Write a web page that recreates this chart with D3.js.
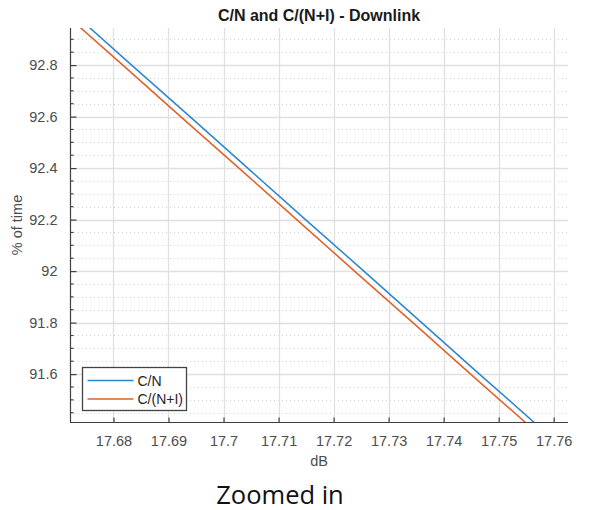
<!DOCTYPE html>
<html>
<head>
<meta charset="utf-8">
<script src="https://cdn.jsdelivr.net/npm/d3@7"></script>
<style>
  html, body { margin: 0; padding: 0; background: #fff; }
  svg { display: block; }
</style>
</head>
<body>
<svg id="chart" width="589" height="510"></svg>
<script>
// Percent-of-time levels at which each curve is sampled
const pctLevels = [93.0, 92.8, 92.6, 92.4, 92.2, 92.0, 91.8, 91.6, 91.4];
// C/N (dB) at those levels
const cnValues = [17.6728, 17.6833, 17.6939, 17.7044, 17.7149, 17.7255, 17.7360, 17.7465, 17.7571];
// C/(N+I) (dB) at those levels
const cniValues = [17.6711, 17.6817, 17.6922, 17.7028, 17.7133, 17.7238, 17.7344, 17.7449, 17.7555];

const xTicks = [17.68, 17.69, 17.70, 17.71, 17.72, 17.73, 17.74, 17.75, 17.76];
const xTickLabels = ["17.68", "17.69", "17.7", "17.71", "17.72", "17.73", "17.74", "17.75", "17.76"];
const yTicks = [91.6, 91.8, 92.0, 92.2, 92.4, 92.6, 92.8];
const yTickLabels = ["91.6", "91.8", "92", "92.2", "92.4", "92.6", "92.8"];
const yMinorTicks = d3.range(91.45, 92.95, 0.05).map(v => +v.toFixed(2)).filter(v => !yTicks.includes(v));

const seriesNames = ["C/N", "C/(N+I)"];
const seriesColors = ["#2a86cf", "#e0602a"];

const xDomain = [17.6721, 17.7626];
const yDomain = [91.414, 92.944];

const plot = { left: 70, right: 568, top: 28, bottom: 422 };
const font = "'Liberation Sans', Arial, Helvetica, sans-serif";
const axisColor = "#404040";
const labelColor = "#4d4d4d";

const svg = d3.select("#chart");
const x = d3.scaleLinear().domain(xDomain).range([plot.left, plot.right]);
const y = d3.scaleLinear().domain(yDomain).range([plot.bottom, plot.top]);

svg.append("defs").append("clipPath").attr("id", "plot-clip")
  .append("rect")
  .attr("x", plot.left).attr("y", plot.top)
  .attr("width", plot.right - plot.left).attr("height", plot.bottom - plot.top);

// Grid: dotted minor rows, solid major rows and columns
const grid = svg.append("g");
grid.selectAll("line.minor").data(yMinorTicks).join("line")
  .attr("x1", plot.left).attr("x2", plot.right)
  .attr("y1", d => Math.round(y(d)) + 0.5).attr("y2", d => Math.round(y(d)) + 0.5)
  .attr("stroke", "#d4d4d4").attr("stroke-width", 1).attr("stroke-dasharray", "1,3");
grid.selectAll("line.hmajor").data(yTicks).join("line")
  .attr("x1", plot.left).attr("x2", plot.right)
  .attr("y1", d => Math.round(y(d)) + 0.5).attr("y2", d => Math.round(y(d)) + 0.5)
  .attr("stroke", "#e0e0e0").attr("stroke-width", 1.3);
grid.selectAll("line.vmajor").data(xTicks).join("line")
  .attr("x1", d => Math.round(x(d)) + 0.5).attr("x2", d => Math.round(x(d)) + 0.5)
  .attr("y1", plot.top).attr("y2", plot.bottom)
  .attr("stroke", "#e0e0e0").attr("stroke-width", 1.3);

// Curves
const line = d3.line().x(d => x(d[0])).y(d => y(d[1]));
const seriesData = [cnValues, cniValues].map(vals => vals.map((v, i) => [v, pctLevels[i]]));
svg.append("g").attr("clip-path", "url(#plot-clip)")
  .selectAll("path").data(seriesData).join("path")
  .attr("d", line)
  .attr("fill", "none")
  .attr("stroke", (d, i) => seriesColors[i])
  .attr("stroke-width", 1.5);

// Bottom axis, ticks pointing inward
const xAxis = d3.axisBottom(x).tickValues(xTicks)
  .tickFormat((d, i) => xTickLabels[i]).tickSizeInner(-5).tickSizeOuter(0).tickPadding(13);
const gx = svg.append("g").attr("transform", `translate(0,${plot.bottom + 0.5})`).call(xAxis);
gx.select(".domain").attr("stroke", axisColor).attr("stroke-width", 1.2)
  .attr("d", `M${plot.left},0H${plot.right}`);
gx.selectAll(".tick line").attr("stroke", axisColor).attr("stroke-width", 1.2);
gx.selectAll(".tick text").attr("fill", labelColor).attr("font-family", font).attr("font-size", 14.5);

// Left axis, major and minor ticks pointing inward
const yAxis = d3.axisLeft(y).tickValues(yTicks)
  .tickFormat((d, i) => yTickLabels[i]).tickSizeInner(-6).tickSizeOuter(0).tickPadding(13);
const gy = svg.append("g").attr("transform", `translate(${plot.left + 0.5},0)`).call(yAxis);
gy.select(".domain").attr("stroke", axisColor).attr("stroke-width", 1.2)
  .attr("d", `M0,${plot.top}V${plot.bottom}`);
gy.selectAll(".tick line").attr("stroke", axisColor).attr("stroke-width", 1.2);
gy.selectAll(".tick text").attr("fill", labelColor).attr("font-family", font).attr("font-size", 14.5);
gy.selectAll("line.minor-tick").data(yMinorTicks).join("line")
  .attr("x1", 0).attr("x2", 3)
  .attr("y1", d => y(d)).attr("y2", d => y(d))
  .attr("stroke", axisColor).attr("stroke-width", 1.2);

// Title and axis labels
svg.append("text")
  .attr("x", (plot.left + plot.right) / 2).attr("y", 21)
  .attr("text-anchor", "middle").attr("font-family", font)
  .attr("font-weight", "bold").attr("font-size", 16).attr("fill", "#1a1a1a")
  .text("C/N and C/(N+I) - Downlink");
svg.append("text")
  .attr("x", (plot.left + plot.right) / 2).attr("y", 466)
  .attr("text-anchor", "middle").attr("font-family", font)
  .attr("font-size", 14.5).attr("fill", labelColor)
  .text("dB");
svg.append("text")
  .attr("transform", `translate(22,${(plot.top + plot.bottom) / 2}) rotate(-90)`)
  .attr("text-anchor", "middle").attr("font-family", font)
  .attr("font-size", 14.5).attr("fill", labelColor)
  .text("% of time");

// Legend
const legend = svg.append("g").attr("transform", "translate(82.5,367.5)");
legend.append("rect").attr("width", 104).attr("height", 43)
  .attr("fill", "#fff").attr("stroke", "#444").attr("stroke-width", 1.3);
seriesNames.forEach((name, i) => {
  const ly = 13 + i * 18.5;
  legend.append("line").attr("x1", 5).attr("x2", 51).attr("y1", ly).attr("y2", ly)
    .attr("stroke", seriesColors[i]).attr("stroke-width", 1.5);
  legend.append("text").attr("x", 55).attr("y", ly + 5)
    .attr("font-family", font).attr("font-size", 14).attr("fill", "#262626")
    .text(name);
});

// Caption under the chart
svg.append("text")
  .attr("x", 280).attr("y", 504)
  .attr("text-anchor", "middle").attr("font-family", "'Open Sans', 'Noto Sans', sans-serif")
  .attr("font-size", 25.5).attr("fill", "#111")
  .text("Zoomed in");
</script>
</body>
</html>
